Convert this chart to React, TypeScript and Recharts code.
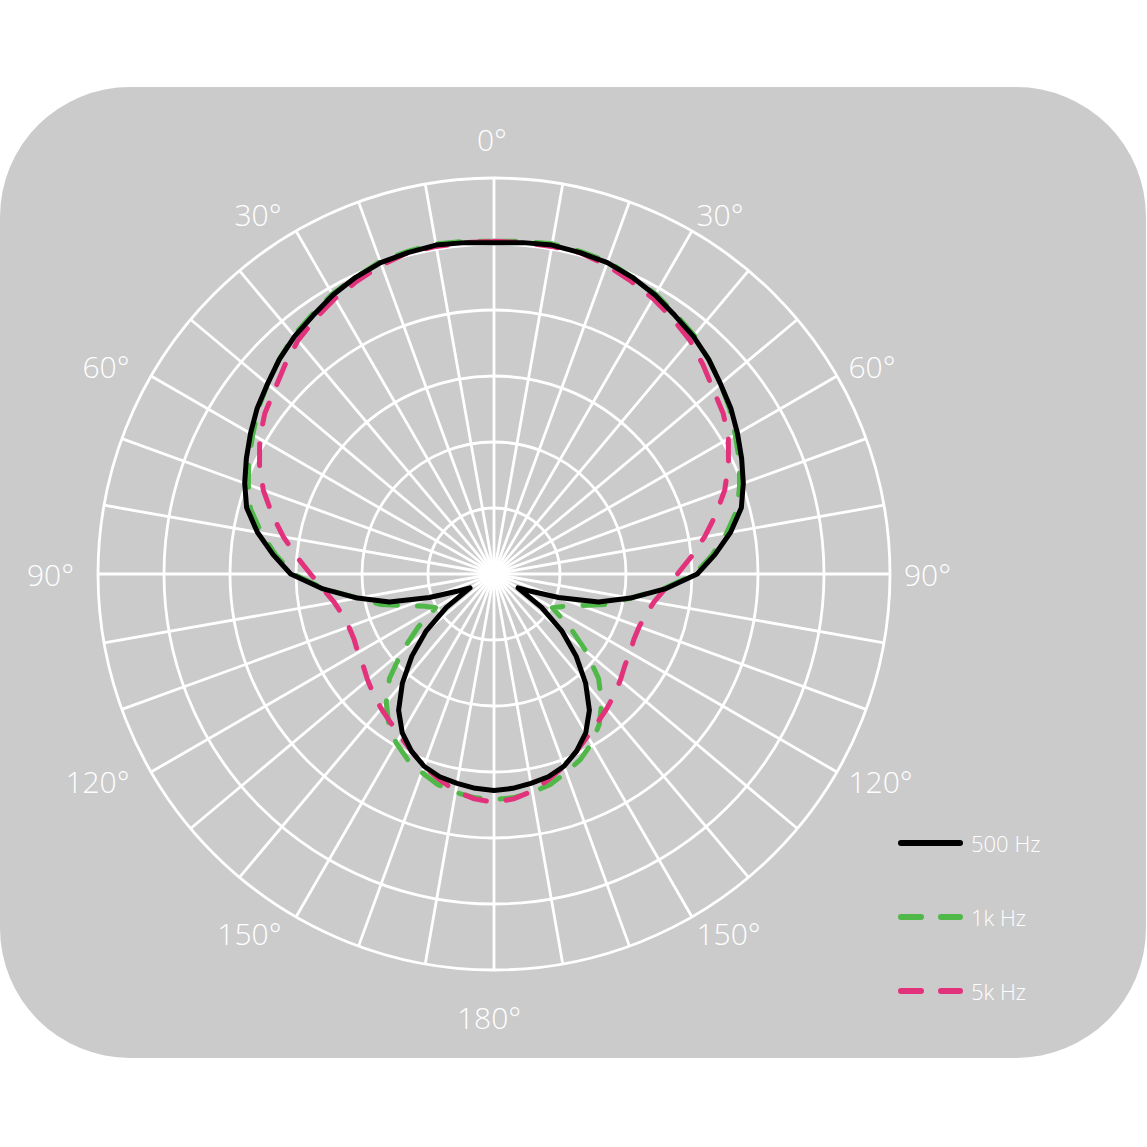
import React from 'react';
import { RadarChart, PolarGrid, PolarAngleAxis, PolarRadiusAxis, Radar } from 'recharts';

// compass angle of each sample, 0 = front, clockwise
const ANGLES = [
  0, 5, 10, 15, 20, 25, 30, 35, 40, 45, 50, 55, 60, 65, 70, 75, 80, 85,
  90, 95, 100, 105, 110, 115, 120, 125, 130, 135, 140, 145, 150, 155, 160, 165, 170, 175,
  180, 185, 190, 195, 200, 205, 210, 215, 220, 225, 230, 235, 240, 245, 250, 255, 260, 265,
  270, 275, 280, 285, 290, 295, 300, 305, 310, 315, 320, 325, 330, 335, 340, 345, 350, 355,
];

// relative level in dB (outer ring = 0 dB, centre = -30 dB)
const HZ500 = [
  -4.9, -4.8, -4.7, -4.8, -4.9, -5.2, -5.6, -6.1, -6.5, -7.0, -7.6, -8.1, -8.7, -9.3, -9.9, -10.6, -11.8, -13.2,
  -14.6, -17.0, -19.5, -21.8, -24.8, -26.9, -27.9, -25.6, -23.3, -21.2, -19.2, -17.4, -16.1, -15.2, -14.5, -14.1, -13.9, -13.7,
  -13.6, -13.7, -13.9, -14.1, -14.5, -15.2, -16.1, -17.4, -19.2, -21.2, -23.3, -25.6, -27.9, -26.9, -24.8, -21.8, -19.5, -17.0,
  -14.6, -13.2, -11.8, -10.6, -9.9, -9.3, -8.7, -8.1, -7.6, -7.0, -6.5, -6.1, -5.6, -5.2, -4.9, -4.8, -4.7, -4.8,
];

const HZ1K = [
  -4.8, -4.7, -4.6, -4.7, -4.8, -5.2, -5.5, -6.0, -6.4, -7.0, -7.6, -8.2, -8.9, -9.5, -10.2, -10.9, -12.1, -13.4,
  -14.8, -17.1, -19.5, -21.1, -23.0, -24.2, -24.9, -23.0, -20.9, -18.8, -17.3, -16.1, -15.2, -14.5, -14.0, -13.5, -13.2, -13.0,
  -12.9, -13.0, -13.2, -13.5, -14.0, -14.5, -15.2, -16.1, -17.3, -18.8, -20.9, -23.0, -24.9, -24.2, -23.0, -21.1, -19.5, -17.1,
  -14.8, -13.4, -12.1, -10.9, -10.2, -9.5, -8.9, -8.2, -7.6, -7.0, -6.4, -6.0, -5.5, -5.2, -4.8, -4.7, -4.6, -4.7,
];

const HZ5K = [
  -4.8, -4.8, -4.8, -4.8, -5.1, -5.5, -5.9, -6.4, -6.9, -7.6, -8.3, -8.8, -9.5, -10.4, -11.4, -12.6, -13.8, -15.0,
  -16.1, -17.0, -17.7, -18.1, -18.3, -18.3, -18.1, -17.9, -17.5, -17.1, -16.7, -16.3, -15.8, -15.2, -14.5, -13.9, -13.3, -12.9,
  -12.7, -12.9, -13.3, -13.9, -14.5, -15.2, -15.8, -16.3, -16.7, -17.1, -17.5, -17.9, -18.1, -18.3, -18.3, -18.1, -17.7, -17.0,
  -16.1, -15.0, -13.8, -12.6, -11.4, -10.4, -9.5, -8.8, -8.3, -7.6, -6.9, -6.4, -5.9, -5.5, -5.1, -4.8, -4.8, -4.8,
];

const RING_DB = [-30, -25, -20, -15, -10, -5, 0];
const SPOKE_ANGLES = [
  0, 10, 20, 30, 40, 50, 60, 70, 80, 90, 100, 110, 120, 130, 140, 150, 160, 170,
  180, 190, 200, 210, 220, 230, 240, 250, 260, 270, 280, 290, 300, 310, 320, 330, 340, 350,
];
const LABEL_ANGLES = [0, 30, 60, 90, 120, 150, 180, 210, 240, 270, 300, 330];

// drawing order: black on top
const SERIES = [
  { key: 'hz1k', name: '1k Hz', color: '#4fb848', dashed: true },
  { key: 'hz5k', name: '5k Hz', color: '#e2327b', dashed: true },
  { key: 'hz500', name: '500 Hz', color: '#000000', dashed: false },
];
const LEGEND_ORDER = ['hz500', 'hz1k', 'hz5k'];

const data = ANGLES.map((angle, i) => ({
  angle,
  hz500: HZ500[i],
  hz1k: HZ1K[i],
  hz5k: HZ5K[i],
}));

const FONT = "'Open Sans', 'Noto Sans', sans-serif";

const AngleTick = ({ x, y, payload }: any) => {
  const a = Number(payload.value);
  if (!LABEL_ANGLES.includes(a)) return <g />;
  const label = `${a > 180 ? 360 - a : a}°`;
  const rad = (payload.coordinate * Math.PI) / 180;
  const c = Math.cos(rad);
  const s = Math.sin(rad);
  const vertical = Math.abs(c) < 0.01;
  const anchor = vertical ? 'middle' : c > 0 ? 'start' : 'end';
  // top and bottom labels sit a bit further out; the rest lean slightly left
  const dy = vertical ? (s > 0 ? -20 : 28) : 0;
  const dx = a === 0 ? -2 : -5;
  return (
    <text
      x={x + dx}
      y={y + dy}
      textAnchor={anchor}
      dominantBaseline="central"
      fill="#ffffff"
      fontSize={30}
      fontWeight={300}
      style={{ fontFamily: FONT }}
    >
      {label}
    </text>
  );
};

const Legend = () => (
  <div style={{ position: 'absolute', left: 896, top: 826 }}>
    {LEGEND_ORDER.map((k) => {
      const s = SERIES.find((x) => x.key === k)!;
      return (
        <div key={k} style={{ display: 'flex', alignItems: 'center', height: 34, marginBottom: 40 }}>
          <svg width={70} height={12} style={{ display: 'block' }}>
            <line
              x1={5}
              x2={64}
              y1={6}
              y2={6}
              stroke={s.color}
              strokeWidth={6}
              strokeLinecap="round"
              strokeDasharray={s.dashed ? '20 20' : undefined}
            />
          </svg>
          <span
            style={{
              marginLeft: 5,
              color: '#ffffff',
              fontFamily: FONT,
              fontWeight: 300,
              fontSize: 22,
              lineHeight: '34px',
            }}
          >
            {s.name}
          </span>
        </div>
      );
    })}
  </div>
);

export default function App() {
  return (
    <div style={{ position: 'absolute', left: 0, top: 0, width: 1147, height: 1147, background: '#ffffff' }}>
      <div
        style={{
          position: 'absolute',
          left: 0,
          top: 87,
          width: 1146,
          height: 971,
          borderRadius: 130,
          background: '#cbcbcc',
        }}
      />
      <div style={{ position: 'absolute', left: 0, top: 0 }}>
        <RadarChart
          width={1147}
          height={1147}
          data={data}
          cx={494}
          cy={574}
          outerRadius={396}
          startAngle={90}
          endAngle={-270}
          margin={{ top: 0, right: 0, bottom: 0, left: 0 }}
        >
          <PolarGrid
            gridType="circle"
            stroke="#ffffff"
            strokeWidth={2.8}
            polarAngles={SPOKE_ANGLES.map((a) => 90 - a)}
          />
          <PolarRadiusAxis
            type="number"
            domain={[-30, 0]}
            ticks={RING_DB}
            tickCount={RING_DB.length}
            tick={false}
            axisLine={false}
            tickLine={false}
          />
          <PolarAngleAxis
            dataKey="angle"
            tick={<AngleTick />}
            tickSize={19}
            axisLine={false}
            tickLine={false}
          />
          {SERIES.map((s) => (
            <Radar
              key={s.key}
              dataKey={s.key}
              name={s.name}
              stroke={s.color}
              strokeWidth={5}
              fill="none"
              fillOpacity={0}
              strokeDasharray={s.dashed ? '22 20' : undefined}
              strokeLinecap="round"
              strokeLinejoin="round"
              dot={false}
              isAnimationActive={false}
            />
          ))}
        </RadarChart>
      </div>
      <Legend />
    </div>
  );
}
